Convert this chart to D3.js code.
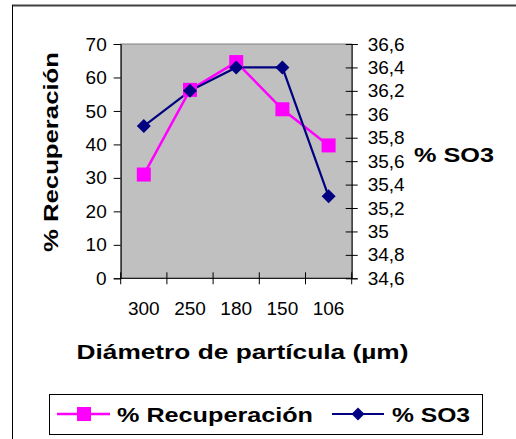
<!DOCTYPE html>
<html><head><meta charset="utf-8">
<script src="https://cdn.jsdelivr.net/npm/d3@7"></script>
<style>body{margin:0;background:#fff;} svg{display:block;font-family:"Liberation Sans",Arial,sans-serif;}</style>
</head><body>
<svg id="c" width="516" height="439"></svg>
<script>
const categories = ["300","250","180","150","106"];
const recuperacion = [31.0, 56.3, 64.6, 50.5, 39.7];
const so3 = [35.9, 36.2, 36.4, 36.4, 35.3];
const leftTicks = [0,10,20,30,40,50,60,70];
const rightTicks = [34.6,34.8,35.0,35.2,35.4,35.6,35.8,36.0,36.2,36.4,36.6];
const rightTickLabels = ["34,6","34,8","35","35,2","35,4","35,6","35,8","36","36,2","36,4","36,6"];
const seriesNames = ["% Recuperación","% SO3"];

const svg = d3.select("#c");
const L=120.7, R=351.7, T=44, B=278.3;
const pink="#FF00FF", navy="#000080";

// outer frame
svg.append("line").attr("x1",12).attr("x2",516).attr("y1",5.5).attr("y2",5.5).attr("stroke","#404040").attr("stroke-width",2);
svg.append("line").attr("x1",12.5).attr("x2",12.5).attr("y1",5).attr("y2",439).attr("stroke","#000").attr("stroke-width",1);

const x = d3.scaleBand().domain(categories).range([L,R]);
const yL = d3.scaleLinear().domain([0,70]).range([B,T]);
const yR = d3.scaleLinear().domain([34.6,36.6]).range([B,T]);

// plot area
svg.append("rect").attr("x",L).attr("y",T).attr("width",R-L).attr("height",B-T).attr("fill","#C0C0C0").attr("stroke","#808080").attr("stroke-width",1);

// left axis
const gL = svg.append("g").attr("transform",`translate(${L},0)`)
  .call(d3.axisLeft(yL).tickValues(leftTicks).tickSize(7).tickPadding(7).tickFormat(d3.format("d")));
gL.select(".domain").attr("stroke","#000");
gL.selectAll("text").attr("font-size",19).attr("font-family","Liberation Sans, Arial").attr("fill","#000");

// right axis
const gR = svg.append("g").attr("transform",`translate(${R},0)`)
  .call(d3.axisRight(yR).tickValues(rightTicks).tickSize(6).tickPadding(10).tickFormat((d,i)=>rightTickLabels[i]));
gR.selectAll(".tick line").attr("x1",-6);
gR.select(".domain").attr("stroke","#000");
gR.selectAll("text").attr("font-size",19).attr("font-family","Liberation Sans, Arial").attr("fill","#000");

// bottom axis
svg.append("line").attr("x1",L).attr("x2",R).attr("y1",B).attr("y2",B).attr("stroke","#000");
const bounds = d3.range(categories.length+1).map(i=>L + x.step()*i);
svg.selectAll(".xt").data(bounds).enter().append("line")
  .attr("x1",d=>d).attr("x2",d=>d).attr("y1",B-6).attr("y2",B+6).attr("stroke","#000");
svg.selectAll(".xl").data(categories).enter().append("text")
  .attr("x",d=>x(d)+x.bandwidth()/2).attr("y",315).attr("text-anchor","middle")
  .attr("font-size",19).text(d=>d);

// series
const cx = d=>x(d)+x.bandwidth()/2;
const lineP = d3.line().x((d,i)=>cx(categories[i])).y(d=>yL(d));
const lineN = d3.line().x((d,i)=>cx(categories[i])).y(d=>yR(d));
svg.append("path").attr("d",lineP(recuperacion)).attr("fill","none").attr("stroke",pink).attr("stroke-width",2.5);
svg.append("path").attr("d",lineN(so3)).attr("fill","none").attr("stroke",navy).attr("stroke-width",2.2);
svg.selectAll(".sq").data(recuperacion).enter().append("rect")
  .attr("x",(d,i)=>cx(categories[i])-7).attr("y",d=>yL(d)-7).attr("width",14).attr("height",14).attr("fill",pink);
const diamond = (cxv,cyv,r)=>`M${cxv},${cyv-r}L${cxv+r},${cyv}L${cxv},${cyv+r}L${cxv-r},${cyv}Z`;
svg.selectAll(".dm").data(so3).enter().append("path")
  .attr("d",(d,i)=>diamond(cx(categories[i]),yR(d),7)).attr("fill",navy);

// titles
svg.append("text").attr("x",76.5).attr("y",359).attr("font-weight","bold").attr("font-size",21)
  .attr("textLength",332).attr("lengthAdjust","spacingAndGlyphs").text("Diámetro de partícula (µm)");
svg.append("text").attr("transform","translate(58,252) rotate(-90)").attr("font-weight","bold").attr("font-size",21)
  .attr("textLength",200).attr("lengthAdjust","spacingAndGlyphs").text(seriesNames[0]);
svg.append("text").attr("x",414).attr("y",162).attr("font-weight","bold").attr("font-size",21)
  .attr("textLength",80).attr("lengthAdjust","spacingAndGlyphs").text(seriesNames[1]);

// legend
const lg = svg.append("g");
lg.append("rect").attr("x",49.5).attr("y",394.5).attr("width",433).attr("height",40).attr("fill","#fff").attr("stroke","#000");
lg.append("line").attr("x1",57).attr("x2",110).attr("y1",414).attr("y2",414).attr("stroke",pink).attr("stroke-width",2.5);
lg.append("rect").attr("x",77).attr("y",407).attr("width",14).attr("height",14).attr("fill",pink);
lg.append("text").attr("x",117).attr("y",421.5).attr("font-weight","bold").attr("font-size",21)
  .attr("textLength",196).attr("lengthAdjust","spacingAndGlyphs").text(seriesNames[0]);
lg.append("line").attr("x1",332).attr("x2",384).attr("y1",414).attr("y2",414).attr("stroke",navy).attr("stroke-width",2.2);
lg.append("path").attr("d",diamond(358,414,6.5)).attr("fill",navy);
lg.append("text").attr("x",392).attr("y",421.5).attr("font-weight","bold").attr("font-size",21)
  .attr("textLength",78).attr("lengthAdjust","spacingAndGlyphs").text(seriesNames[1]);
</script>
</body></html>
